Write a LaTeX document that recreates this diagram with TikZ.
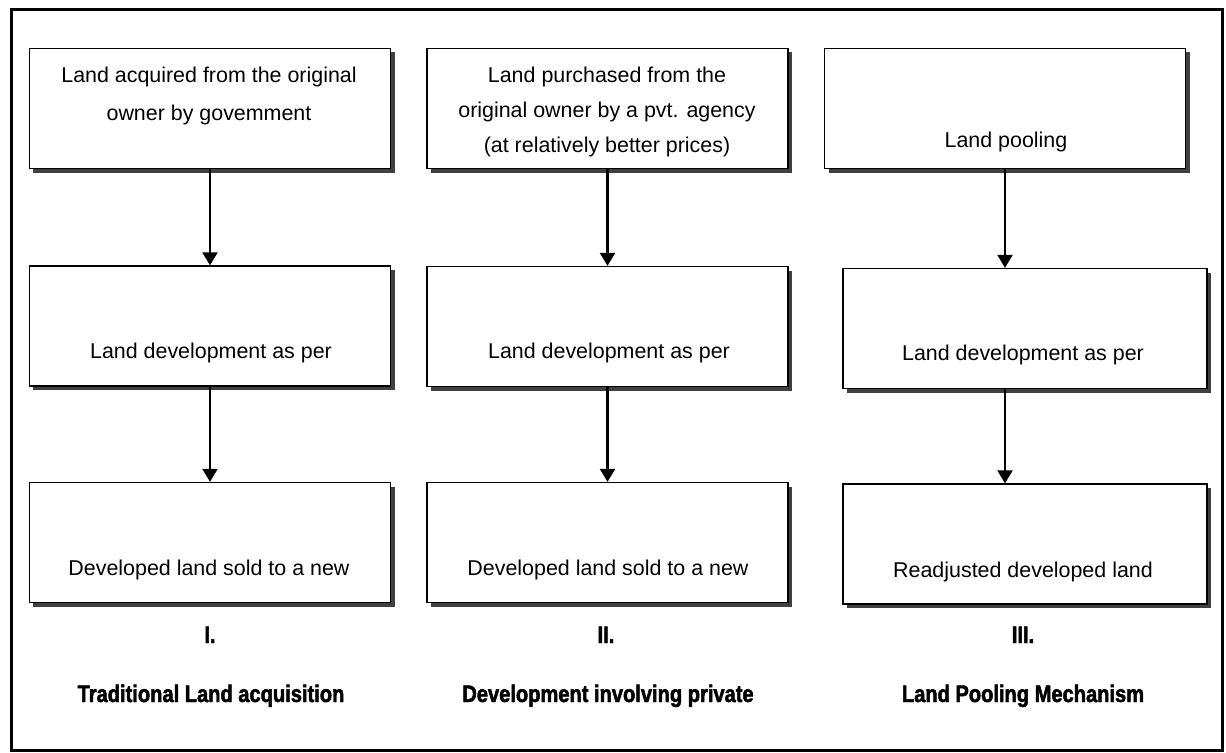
\documentclass[tikz,border=0pt]{standalone}
\usepackage{fontspec}
\setmainfont{Liberation Sans}
\newfontfamily\headfont[FakeStretch=0.84,FakeBold=2]{Liberation Sans Bold}
\usetikzlibrary{arrows.meta,shadows}

\begin{document}
\begin{tikzpicture}[x=1bp,y=-1bp,
  stepbox/.style={draw=black, line width=1.3bp, fill=white, rectangle,
    inner sep=0pt, minimum width=361bp, minimum height=120bp,
    drop shadow={shadow xshift=4bp, shadow yshift=-4bp, fill=black!75, opacity=1}},
  boxtext/.style={anchor=base, inner sep=0pt, font=\fontsize{21.5}{24}\selectfont},
  headtext/.style={anchor=base, inner sep=0pt, font=\headfont\fontsize{24}{26}\selectfont},
  flow/.style={line width=2.2bp, -{Triangle[width=15bp,length=13bp]}}]

\useasboundingbox (0,0) rectangle (1226,753);
\fill[white] (0,0) rectangle (1226,753);

% outer frame
\draw[line width=3bp] (11,9.5) rectangle (1222.5,750.5);

% column I: traditional acquisition
\node[stepbox] (a1) at (210,108.5) {};
\node[stepbox] (a2) at (210,326) {};
\node[stepbox] (a3) at (210,542.5) {};
% column II: private development
\node[stepbox] (b1) at (607.5,108.5) {};
\node[stepbox] (b2) at (607.5,326.5) {};
\node[stepbox] (b3) at (607.5,542.5) {};
% column III: land pooling
\node[stepbox] (c1) at (1005,108.5) {};
\node[stepbox, minimum width=364bp] (c2) at (1025,328.5) {};
\node[stepbox, minimum width=364bp] (c3) at (1025,544) {};

% box texts
\node[boxtext] (a1t1) at (209,83) {Land acquired from the original};
\node[boxtext] (a1t2) at (209,121) {owner by govemment};
\node[boxtext] (a2t) at (211,358) {Land development as per};
\node[boxtext] (a3t) at (209,575) {Developed land sold to a new};

\node[boxtext] (b1t1) at (607,83) {Land purchased from the};
\node[boxtext] (b1t2) at (607,117.5) {original owner by a pvt. agency};
\node[boxtext] (b1t3) at (607,152) {(at relatively better prices)};
\node[boxtext] (b2t) at (609,358) {Land development as per};
\node[boxtext] (b3t) at (608,575) {Developed land sold to a new};

\node[boxtext] (c1t) at (1006,147) {Land pooling};
\node[boxtext] (c2t) at (1023,360) {Land development as per};
\node[boxtext] (c3t) at (1023,577) {Readjusted developed land};

% column headings
\node[headtext] (ai) at (210,643) {I.};
\node[headtext] (ah) at (211,702) {Traditional Land acquisition};
\node[headtext] (bi) at (606,643) {II.};
\node[headtext] (bh) at (608,702) {Development involving private};
\node[headtext] (ci) at (1023,643) {III.};
\node[headtext] (ch) at (1023,702) {Land Pooling Mechanism};

% connectors
\draw[flow] (a1.south) -- (a2.north);
\draw[flow] (a2.south) -- (a3.north);
\draw[flow] (b1.south) -- (b2.north);
\draw[flow] (b2.south) -- (b3.north);
\draw[flow] (c1.south) -- (c1.south |- c2.north);
\draw[flow] (c1.south |- c2.south) -- (c1.south |- c3.north);
\end{tikzpicture}
\end{document}
